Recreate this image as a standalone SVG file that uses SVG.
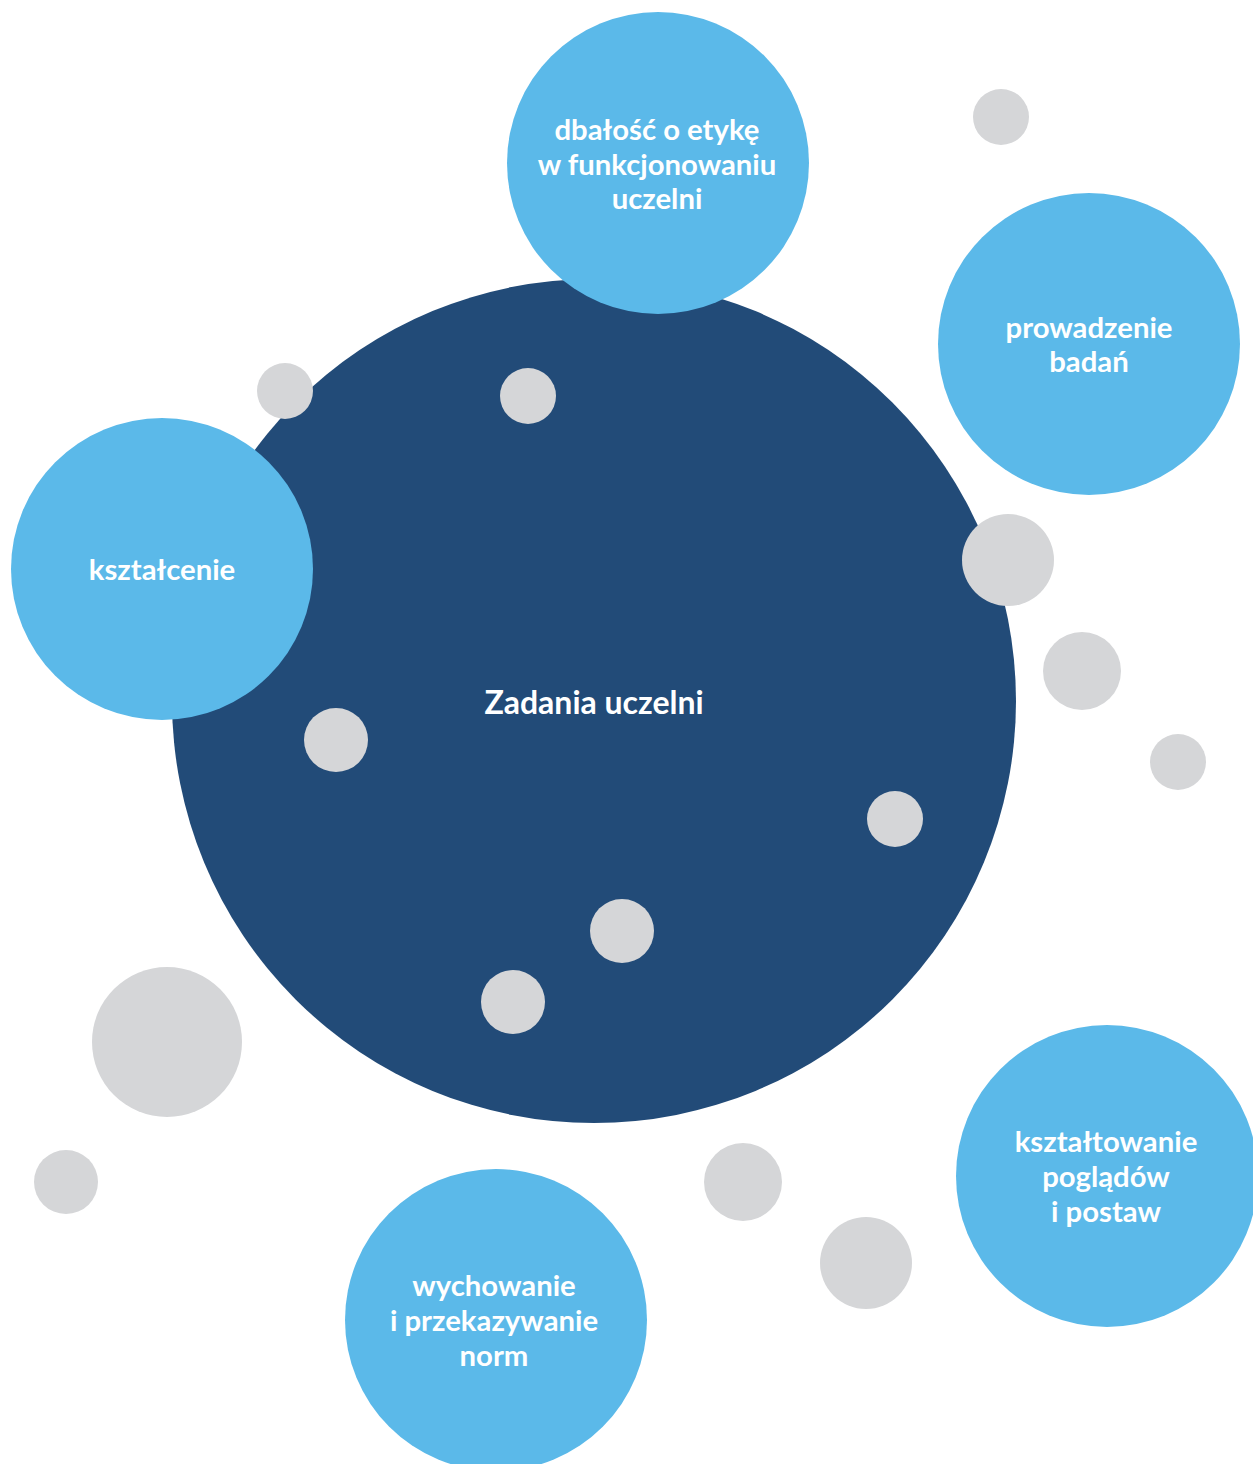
<svg xmlns="http://www.w3.org/2000/svg" width="1253" height="1464" viewBox="0 0 1253 1464">
<style>
.main{fill:#224B78}
.node{fill:#5BB9E9}
.dot{fill:#D5D6D8}
text{font-family:Lato,"Open Sans","Liberation Sans",sans-serif;font-weight:700;font-size:29.3px;fill:#FFFFFF;text-anchor:middle}
.big{font-size:32px}
</style>
<rect width="1253" height="1464" fill="#FFFFFF"/>
<g id="connectors"></g>
<g id="center">
<circle class="main" cx="594" cy="701" r="422"/>
<text class="big" x="594" y="714">Zadania uczelni</text>
</g>
<g id="dots">
<circle class="dot" cx="1001" cy="117" r="28"/>
<circle class="dot" cx="285" cy="391" r="28"/>
<circle class="dot" cx="528" cy="396" r="28"/>
<circle class="dot" cx="1008" cy="560" r="46"/>
<circle class="dot" cx="1082" cy="671" r="39"/>
<circle class="dot" cx="1178" cy="762" r="28"/>
<circle class="dot" cx="336" cy="740" r="32"/>
<circle class="dot" cx="895" cy="819" r="28"/>
<circle class="dot" cx="622" cy="931" r="32"/>
<circle class="dot" cx="513" cy="1002" r="32"/>
<circle class="dot" cx="167" cy="1042" r="75"/>
<circle class="dot" cx="66" cy="1182" r="32"/>
<circle class="dot" cx="743" cy="1182" r="39"/>
<circle class="dot" cx="866" cy="1263" r="46"/>
</g>
<g id="node-etyka">
<circle class="node" cx="658" cy="163" r="151"/>
<text x="657" y="140">dbałość o etykę</text>
<text x="657" y="175">w funkcjonowaniu</text>
<text x="657" y="209">uczelni</text>
</g>
<g id="node-badania">
<circle class="node" cx="1089" cy="344" r="151"/>
<text x="1089" y="338">prowadzenie</text>
<text x="1089" y="372">badań</text>
</g>
<g id="node-ksztalcenie">
<circle class="node" cx="162" cy="569" r="151"/>
<text x="162" y="580">kształcenie</text>
</g>
<g id="node-poglady">
<circle class="node" cx="1107" cy="1176" r="151"/>
<text x="1106" y="1152">kształtowanie</text>
<text x="1106" y="1187">poglądów</text>
<text x="1106" y="1222">i postaw</text>
</g>
<g id="node-wychowanie">
<circle class="node" cx="496" cy="1320" r="151"/>
<text x="494" y="1296">wychowanie</text>
<text x="494" y="1331">i przekazywanie</text>
<text x="494" y="1366">norm</text>
</g>
</svg>
